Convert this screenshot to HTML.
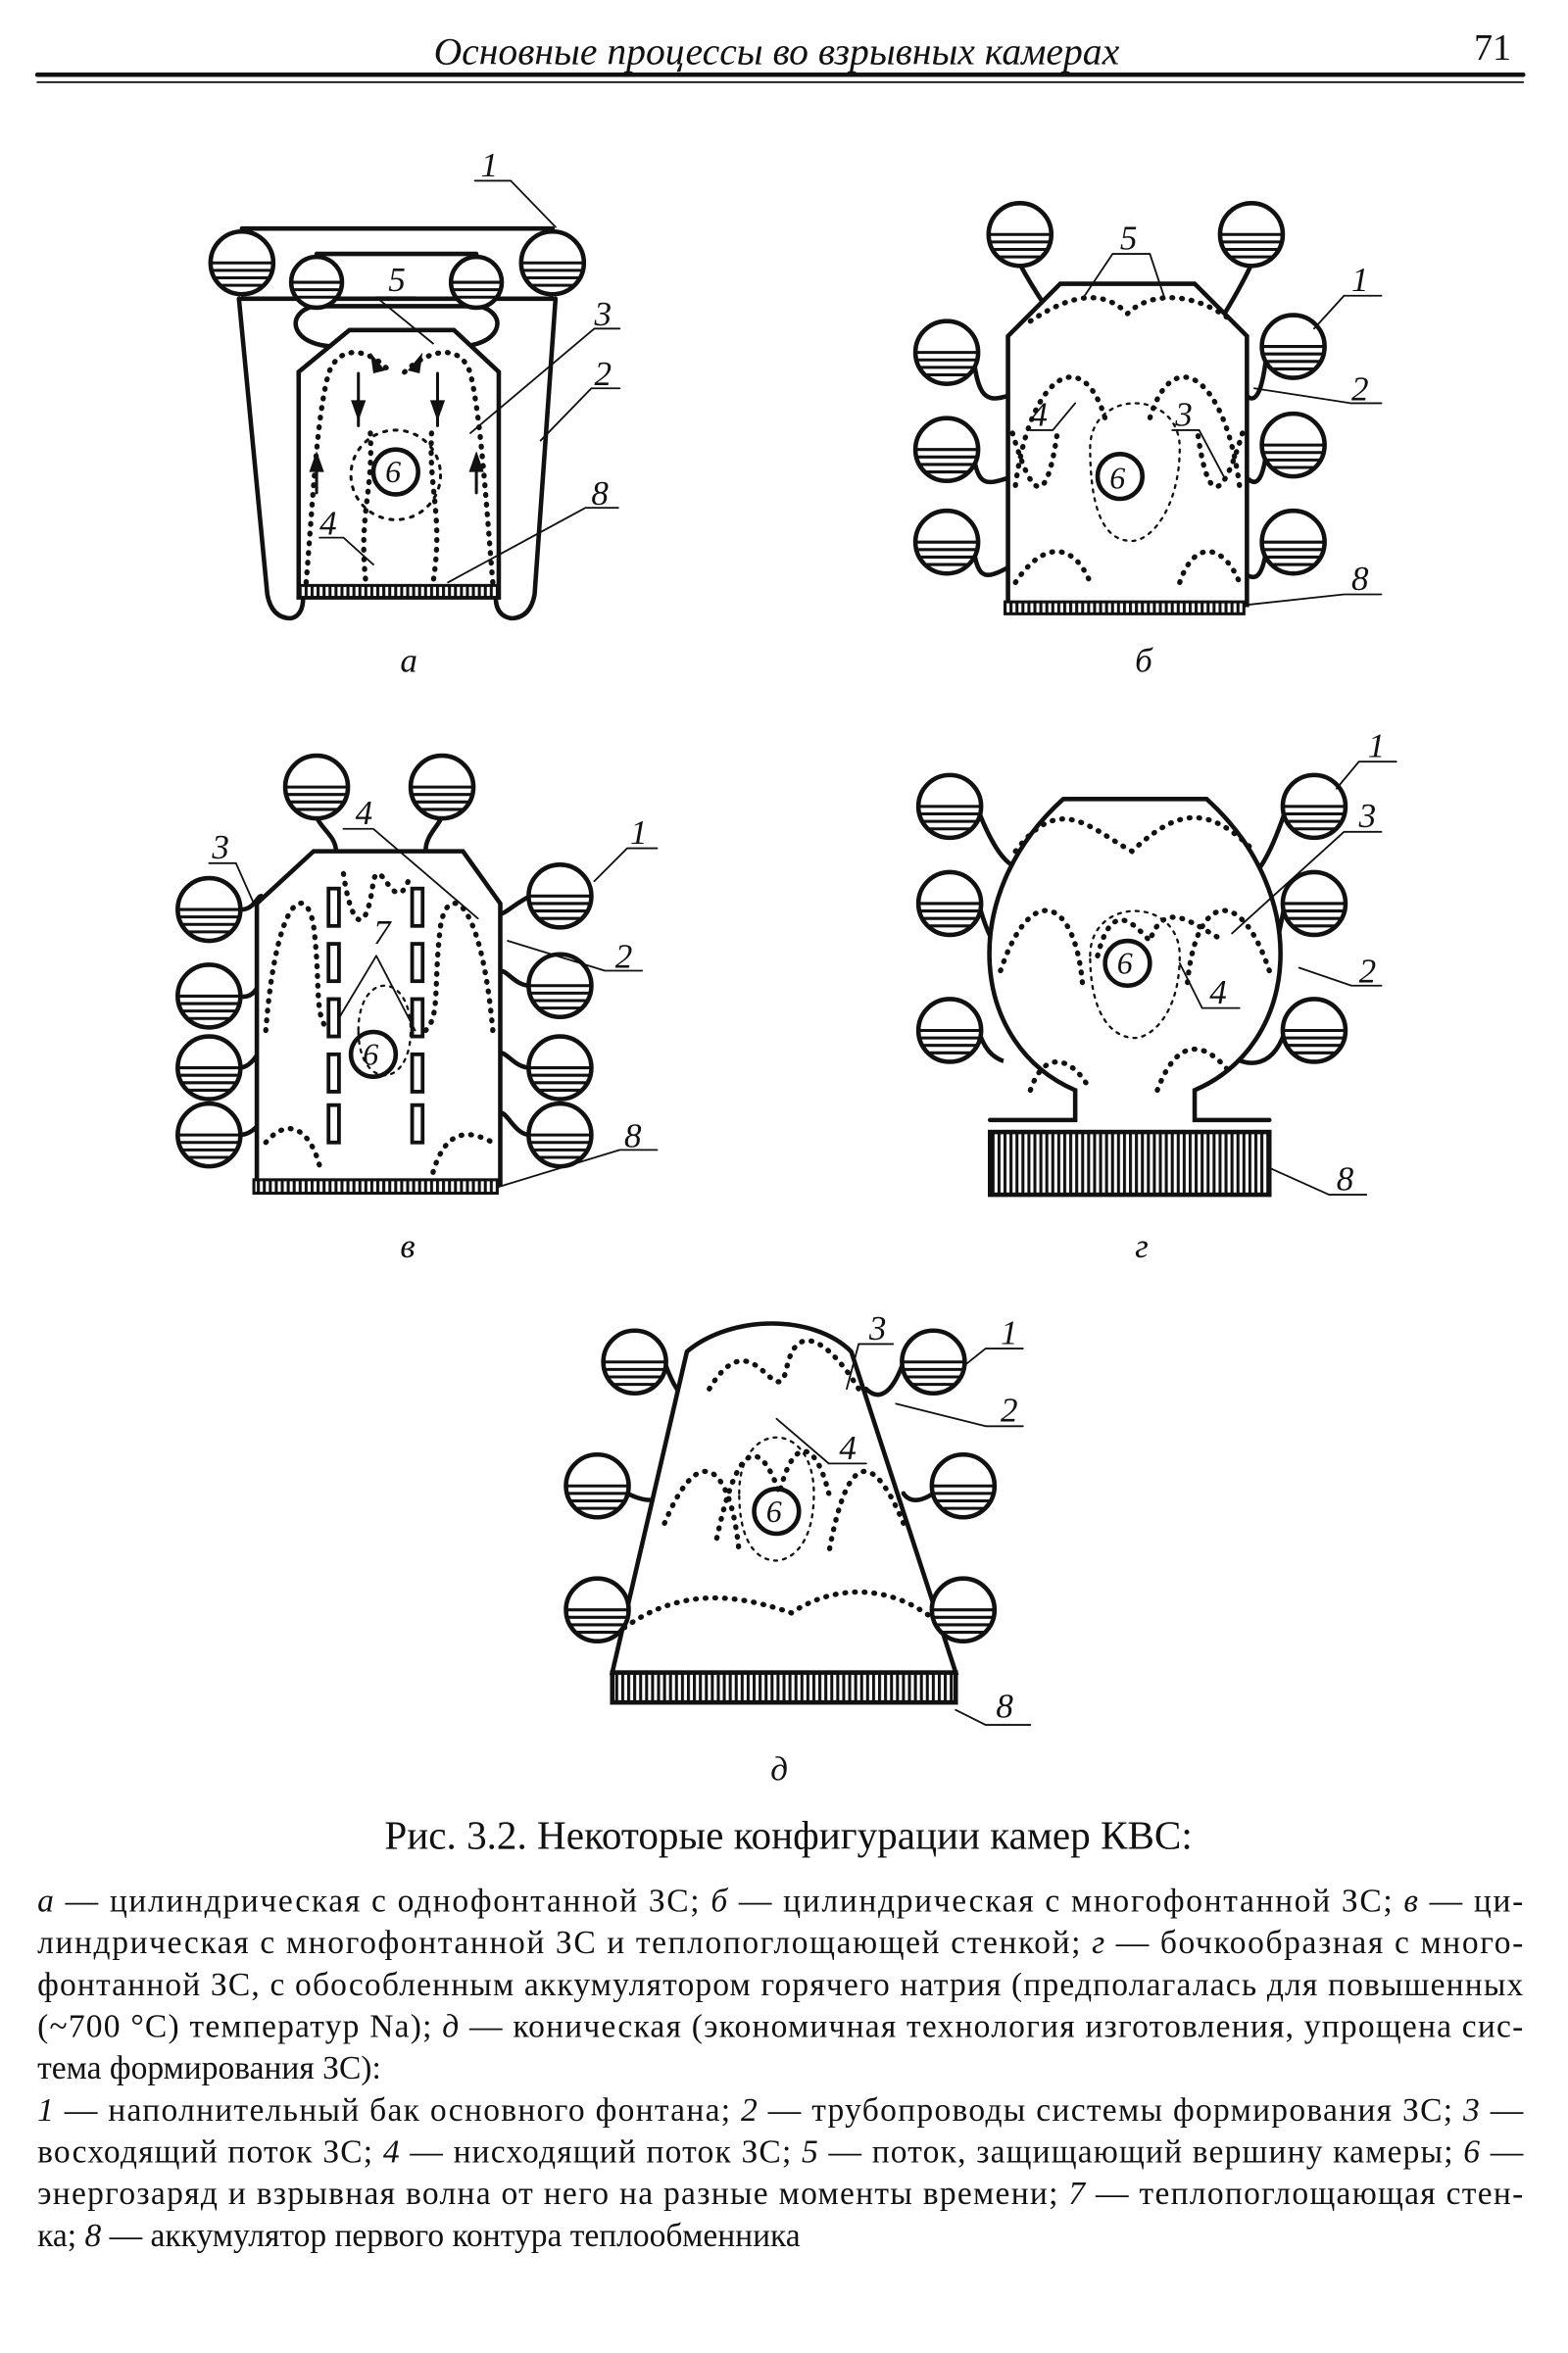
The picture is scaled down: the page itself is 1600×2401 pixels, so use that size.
<!DOCTYPE html>
<html><head><meta charset="utf-8"><style>
html,body{margin:0;padding:0;background:#fff}
svg{display:block}
text{font-family:"Liberation Serif",serif;fill:#111}
.i{font-style:italic}
</style></head><body>
<svg width="1600" height="2401" viewBox="0 0 1050 1575.6" xmlns="http://www.w3.org/2000/svg">
<defs>
<pattern id="hat" width="4" height="10" patternUnits="userSpaceOnUse"><rect width="4" height="10" fill="#fff"/><rect width="2" height="10" fill="#111"/></pattern>
<g id="tk"><circle r="21" fill="#fff" stroke="#111" stroke-width="3"/><path d="M-21 0H21M-20.4 5H20.4M-18.5 10H18.5M-14.5 15H14.5" stroke="#111" stroke-width="2"/></g>
<g id="tks"><circle r="17" fill="#fff" stroke="#111" stroke-width="3"/><path d="M-17 0H17M-16.2 5H16.2M-13.7 10H13.7" stroke="#111" stroke-width="2"/></g>
</defs>
<g stroke="#111" fill="none" stroke-width="3" stroke-linecap="round">
<line x1="25" y1="50" x2="1020" y2="50" stroke-width="3"/>
<line x1="25" y1="55" x2="1020" y2="55" stroke-width="1.2"/>

<!-- FIG A -->
<path d="M162 153H370M162 200H370"/>
<path d="M212 170H319M212 205H319"/>
<path d="M210 205 C190 210 195 232 225 232 M321 205 C341 210 336 232 306 232"/>
<path d="M160 200 L179 398 Q182 414 195 414 Q203 412 203 400 M372 200 L358 398 Q355 414 342 414 Q332 412 332 400"/>
<path d="M234 221H304L334 249V400H200V249Z" fill="#fff"/>
<rect x="200" y="392" width="134" height="8" fill="url(#hat)" stroke-width="2"/>
<g stroke-dasharray="0.5 6" stroke-width="3.5">
<path d="M205 390 C210 330 212 280 220 250 C228 228 250 235 262 250"/>
<path d="M330 390 C325 330 322 280 315 250 C308 228 285 235 270 250"/>
<path d="M248 290 C250 330 240 345 245 390 M289 290 C287 330 297 345 290 390"/>
</g>
<circle cx="265" cy="318" r="30" stroke-dasharray="2 5" stroke-width="2"/>
<circle cx="265" cy="316" r="15"/>
<path d="M240 250V285M293 250V285M212 330V305M319 330V305" stroke-width="2"/>
<g fill="#111" stroke="none"><path d="M235 268L245 268L240 282Z M288 268L298 268L293 282Z M207 316L217 316L212 302Z M314 316L324 316L319 302Z M248 236L258 248L250 250Z M283 236L273 248L281 250Z"/></g>
<use href="#tk" x="162" y="176"/><use href="#tk" x="370" y="176"/>
<use href="#tks" x="212" y="189"/><use href="#tks" x="319" y="189"/>
<g stroke-width="1.2"><path d="M318 121H342L372 152"/><path d="M252 199H278M252 199L290 230"/><path d="M398 220H415M398 220L315 290"/><path d="M396 260H415M396 260L362 295"/><path d="M392 340H414M392 340L300 390"/><path d="M214 360H230L250 378"/></g>

<!-- FIG B -->
<path d="M683 177 C690 190 700 205 700 205 M838 177 C832 190 820 210 820 210"/>
<path d="M652 240 C655 265 660 270 675 265 M652 305 C655 325 660 325 675 320 M652 368 C655 388 660 388 675 380"/>
<path d="M848 238 C845 265 840 270 835 265 M848 303 C845 325 840 325 835 320 M848 368 C845 388 840 388 835 385"/>
<path d="M710 190H800L835 225V405H675V225Z" fill="#fff"/>
<rect x="673" y="403" width="160" height="8" fill="url(#hat)" stroke-width="2"/>
<g stroke-dasharray="0.5 6" stroke-width="3.5">
<path d="M690 215 C720 195 740 195 755 210 C770 195 800 195 825 215"/>
<path d="M680 325 C690 250 725 230 740 280"/>
<path d="M830 325 C820 250 785 230 770 280"/>
<path d="M678 290 C690 330 700 345 708 290 M832 290 C820 330 810 345 802 290"/>
<path d="M680 390 C700 360 720 365 730 390 M790 390 C800 360 820 365 830 390"/>
</g>
<path d="M730 300 C730 260 790 260 790 300 C790 340 770 365 755 362 C735 360 730 330 730 300" stroke-dasharray="2 4" stroke-width="1.5"/>
<circle cx="750" cy="319" r="15"/>
<use href="#tk" x="683" y="157"/><use href="#tk" x="838" y="157"/>
<use href="#tk" x="634" y="236"/><use href="#tk" x="634" y="301"/><use href="#tk" x="634" y="363"/>
<use href="#tk" x="866" y="232"/><use href="#tk" x="866" y="298"/><use href="#tk" x="866" y="363"/>
<g stroke-width="1.2"><path d="M745 170H770M745 170L725 200M770 170L780 200"/><path d="M900 198H925M900 198L880 220"/><path d="M905 270H925M905 270L840 260"/><path d="M785 288H803M803 288L820 320"/><path d="M690 288H705M705 288L720 270"/><path d="M900 398H925M900 398L835 405"/></g>

<!-- FIG C -->
<path d="M212 547 C215 555 225 560 225 570 M296 547 C292 555 285 560 285 570"/>
<path d="M160 609 C170 610 172 600 175 600 M160 667 C172 670 175 655 176 650 M160 715 C170 715 175 700 176 700 M160 760 C170 760 175 750 176 750"/>
<path d="M355 600 C345 605 338 612 335 612 M355 660 C345 660 340 650 335 650 M355 715 C345 715 340 705 335 705 M355 760 C345 760 340 745 335 745"/>
<path d="M210 570H310L335 605V793H172V605Z" fill="#fff"/>
<rect x="170" y="790" width="163" height="9" fill="url(#hat)" stroke-width="2"/>
<g stroke-dasharray="0.5 6" stroke-width="3.5">
<path d="M178 690 C185 600 205 590 210 620 C215 660 210 680 220 690"/>
<path d="M330 690 C322 600 300 590 295 620 C290 660 295 680 285 690"/>
<path d="M230 585 C235 620 245 630 250 590 C255 570 265 620 275 585"/>
<path d="M178 765 C195 745 210 760 215 785 M290 785 C300 750 320 760 330 765"/>
</g>
<path d="M240 690 C240 650 275 650 275 690 C275 730 240 730 240 690" stroke-dasharray="2 4" stroke-width="1.5"/>
<circle cx="250" cy="706" r="15"/>
<g stroke-width="2.5"><rect x="220" y="595" width="7" height="25"/><rect x="220" y="632" width="7" height="25"/><rect x="220" y="669" width="7" height="25"/><rect x="220" y="706" width="7" height="25"/><rect x="220" y="740" width="7" height="25"/><rect x="276" y="595" width="7" height="25"/><rect x="276" y="632" width="7" height="25"/><rect x="276" y="669" width="7" height="25"/><rect x="276" y="706" width="7" height="25"/><rect x="276" y="740" width="7" height="25"/></g>
<use href="#tk" x="212" y="527"/><use href="#tk" x="296" y="527"/>
<use href="#tk" x="140" y="609"/><use href="#tk" x="140" y="667"/><use href="#tk" x="140" y="715"/><use href="#tk" x="140" y="760"/>
<use href="#tk" x="375" y="600"/><use href="#tk" x="375" y="660"/><use href="#tk" x="375" y="715"/><use href="#tk" x="375" y="760"/>
<g stroke-width="1.2"><path d="M140 578H158L170 605"/><path d="M230 555H250L320 615"/><path d="M252 640L228 680M252 640L278 690"/><path d="M420 568H440M420 568L398 590"/><path d="M405 650H430M405 650L340 630"/><path d="M415 770H440M415 770L333 795"/></g>

<!-- FIG г -->
<path d="M656 545 C670 580 680 580 680 580 M656 607 C665 640 675 640 675 640 M656 692 C665 720 690 710 690 710"/>
<path d="M860 545 C848 580 840 585 840 585 M860 607 C850 660 845 665 845 665 M860 692 C850 720 830 710 830 710"/>
<path d="M712 535 H808 C880 600 870 700 800 730 V750 H850 M712 535 C640 600 650 700 720 730 V750 H663" fill="#fff"/>
<rect x="663" y="758" width="187" height="42" fill="url(#hat)" stroke-width="3"/>
<g stroke-dasharray="0.5 6" stroke-width="3.5">
<path d="M680 570 C710 530 730 555 758 570 C790 540 810 540 840 570"/>
<path d="M670 650 C690 590 720 600 725 660 M850 650 C830 590 800 600 795 660"/>
<path d="M735 640 C745 600 760 620 770 630 C780 600 800 620 820 630"/>
<path d="M690 730 C700 700 720 710 730 730 M775 730 C790 690 810 700 825 720"/>
</g>
<path d="M730 640 C730 600 790 600 790 640 C790 680 770 695 760 695 C745 695 730 680 730 640" stroke-dasharray="2 4" stroke-width="1.5"/>
<circle cx="755" cy="645" r="15"/>
<use href="#tk" x="636" y="540"/><use href="#tk" x="636" y="605"/><use href="#tk" x="636" y="690"/>
<use href="#tk" x="880" y="540"/><use href="#tk" x="880" y="605"/><use href="#tk" x="880" y="690"/>
<g stroke-width="1.2"><path d="M910 510H935M910 510L895 528"/><path d="M900 557H925M900 557L825 625"/><path d="M905 660H925M905 660L870 648"/><path d="M805 675H830M805 675L790 645"/><path d="M890 800H915M890 800L850 782"/></g>

<!-- FIG д -->
<path d="M445 912 C455 940 460 935 465 935 M605 912 C595 940 585 935 580 930"/>
<path d="M420 1000 C440 1010 445 1000 445 1000 M422 1078 C418 1110 430 1100 435 1095 M625 1000 C610 1010 605 1000 605 1000 M625 1078 C625 1105 615 1100 612 1095"/>
<path d="M460 905 C490 880 545 880 570 905 L640 1120 H410 Z" fill="#fff"/>
<rect x="410" y="1120" width="230" height="20" fill="url(#hat)" stroke-width="3"/>
<g stroke-dasharray="0.5 6" stroke-width="3.5">
<path d="M475 930 C505 880 520 950 527 915 C535 880 560 905 575 930"/>
<path d="M445 1020 C470 960 490 985 495 1040 M605 1020 C580 960 565 985 555 1040"/>
<path d="M480 1030 C495 960 510 965 522 1000 C530 965 545 960 555 1000"/>
<path d="M418 1090 C460 1060 500 1070 530 1080 C560 1060 600 1060 632 1090"/>
</g>
<path d="M495 1000 C495 950 545 950 545 1000 C545 1040 525 1045 520 1045 C505 1045 495 1030 495 1000" stroke-dasharray="2 4" stroke-width="1.5"/>
<circle cx="520" cy="1012" r="15"/>
<use href="#tk" x="425" y="912"/><use href="#tk" x="625" y="912"/>
<use href="#tk" x="400" y="995"/><use href="#tk" x="400" y="1078"/>
<use href="#tk" x="645" y="995"/><use href="#tk" x="645" y="1078"/>
<g stroke-width="1.2"><path d="M575 900H598M575 900L567 930"/><path d="M660 903H685M660 903L645 915"/><path d="M660 955H685M660 955L600 940"/><path d="M555 980H580M555 980L520 950"/><path d="M640 1145L660 1155H690"/></g>
</g>

<text x="520" y="43" font-size="26" font-style="italic" text-anchor="middle">Основные процессы во взрывных камерах</text>
<text x="1012" y="40" font-size="25" text-anchor="end">71</text>
<g font-size="23" font-style="italic">
<text x="322" y="118">1</text><text x="260" y="195">5</text><text x="398" y="218">3</text><text x="398" y="258">2</text><text x="396" y="338">8</text><text x="214" y="358">4</text>
<text x="750" y="167">5</text><text x="905" y="195">1</text><text x="905" y="268">2</text><text x="787" y="285">3</text><text x="690" y="285">4</text><text x="905" y="395">8</text>
<text x="142" y="575">3</text><text x="238" y="552">4</text><text x="250" y="632">7</text><text x="422" y="565">1</text><text x="412" y="648">2</text><text x="418" y="768">8</text>
<text x="916" y="507">1</text><text x="910" y="554">3</text><text x="910" y="658">2</text><text x="810" y="672">4</text><text x="895" y="797">8</text>
<text x="582" y="897">3</text><text x="670" y="900">1</text><text x="670" y="952">2</text><text x="562" y="977">4</text><text x="667" y="1150">8</text>
<text x="258" y="323" font-size="21">6</text><text x="743" y="327" font-size="21">6</text><text x="243" y="713" font-size="21">6</text><text x="748" y="652" font-size="21">6</text><text x="513" y="1019" font-size="21">6</text>
<text x="268" y="450">а</text><text x="760" y="450">б</text><text x="268" y="842">в</text><text x="760" y="842">г</text><text x="516" y="1192">д</text>
</g>
<text x="528" y="1238" font-size="27" text-anchor="middle">Рис. 3.2. Некоторые конфигурации камер КВС:</text>
<g font-size="22">
<text x="25" y="1280" textLength="995" lengthAdjust="spacing"><tspan class="i">а</tspan> — цилиндрическая с однофонтанной ЗС; <tspan class="i">б</tspan> — цилиндрическая с многофонтанной ЗС; <tspan class="i">в</tspan> — ци-</text>
<text x="25" y="1308" textLength="995" lengthAdjust="spacing">линдрическая с многофонтанной ЗС и теплопоглощающей стенкой; <tspan class="i">г</tspan> — бочкообразная с много-</text>
<text x="25" y="1336" textLength="995" lengthAdjust="spacing">фонтанной ЗС, с обособленным аккумулятором горячего натрия (предполагалась для повышенных</text>
<text x="25" y="1364" textLength="995" lengthAdjust="spacing">(~700 °С) температур Na); <tspan class="i">д</tspan> — коническая (экономичная технология изготовления, упрощена сис-</text>
<text x="25" y="1392">тема формирования ЗС):</text>
<text x="25" y="1420" textLength="995" lengthAdjust="spacing"><tspan class="i">1</tspan> — наполнительный бак основного фонтана; <tspan class="i">2</tspan> — трубопроводы системы формирования ЗС; <tspan class="i">3</tspan> —</text>
<text x="25" y="1448" textLength="995" lengthAdjust="spacing">восходящий поток ЗС; <tspan class="i">4</tspan> — нисходящий поток ЗС; <tspan class="i">5</tspan> — поток, защищающий вершину камеры; <tspan class="i">6</tspan> —</text>
<text x="25" y="1476" textLength="995" lengthAdjust="spacing">энергозаряд и взрывная волна от него на разные моменты времени; <tspan class="i">7</tspan> — теплопоглощающая стен-</text>
<text x="25" y="1504">ка; <tspan class="i">8</tspan> — аккумулятор первого контура теплообменника</text>
</g>
</svg>
</body></html>
